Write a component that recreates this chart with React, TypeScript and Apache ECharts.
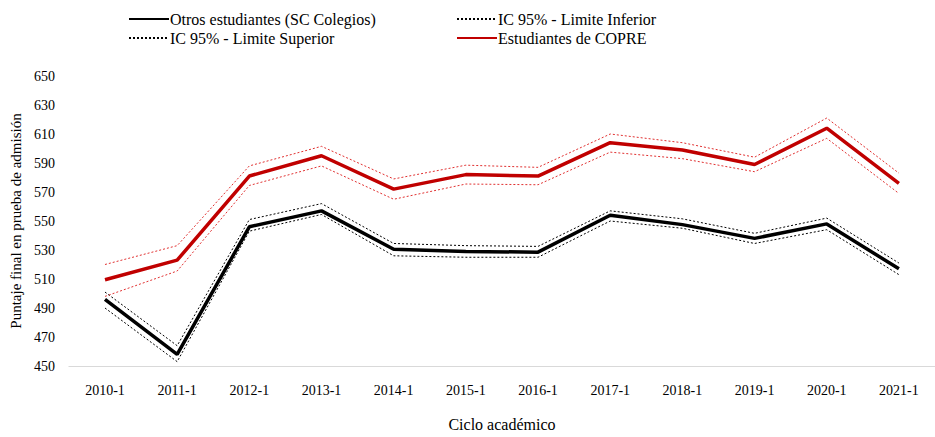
import React, { useEffect, useRef } from "react";
import * as echarts from "echarts";

const categories = ["2010-1", "2011-1", "2012-1", "2013-1", "2014-1", "2015-1", "2016-1", "2017-1", "2018-1", "2019-1", "2020-1", "2021-1"];
const otros = [496, 458, 546, 557, 530.5, 529, 528.5, 554, 547.5, 538, 548, 517];
const otrosSup = [501, 464, 551, 562, 534.5, 533, 532.5, 557, 551.5, 541.5, 552, 521];
const otrosInf = [490, 453, 543, 554.5, 526, 525, 525, 550, 545, 534.5, 544, 513];
const copre = [509.5, 523, 581, 595, 572, 582, 581, 604, 599, 589, 614, 576];
const copreSup = [520, 533, 588, 601.5, 579, 588.5, 587, 610, 604, 594, 621, 583];
const copreInf = [498, 515.5, 574.5, 588, 565, 575.5, 575, 597.5, 593, 584, 607, 569];

const yTicks = { min: 450, max: 650, interval: 20 };

const FONT = "Liberation Serif";

export default function App() {
  const ref = useRef<HTMLDivElement>(null);
  useEffect(() => {
    if (!ref.current) return;
    const chart = echarts.init(ref.current, undefined, { renderer: "svg" });
    const dotted = (color: string) => ({ color, width: 1, type: [2, 2] as any });
    const legendBase = {
      orient: "horizontal",
      itemWidth: 40,
      itemHeight: 10,
      itemGap: 0,
      itemStyle: { opacity: 0 },
      textStyle: { fontFamily: FONT, fontSize: 16, color: "#000", padding: [0, 0, 0, -4] },
      padding: 0,
      selectedMode: false,
    };
    chart.setOption({
      animation: false,
      textStyle: { fontFamily: FONT },
      legend: [
        { ...legendBase, left: 128, top: 11, data: ["Otros estudiantes (SC Colegios)"] },
        { ...legendBase, left: 456, top: 11, data: ["IC 95% - Limite Inferior"] },
        { ...legendBase, left: 128, top: 30, data: ["IC 95% - Limite Superior"] },
        { ...legendBase, left: 456, top: 30, data: ["Estudiantes de COPRE"] },
      ],
      grid: { left: 66, right: -19, top: 76, bottom: 68 },
      xAxis: {
        type: "category",
        data: categories,
        boundaryGap: true,
        axisLine: { lineStyle: { color: "#d9d9d9", width: 1 } },
        axisTick: { show: false },
        axisLabel: { fontFamily: FONT, fontSize: 14, color: "#000", margin: 17 },
        name: "Ciclo académico",
        nameLocation: "middle",
        nameGap: 50,
        nameTextStyle: { fontFamily: FONT, fontSize: 16, color: "#000" },
      },
      yAxis: {
        type: "value",
        min: yTicks.min,
        max: yTicks.max,
        interval: yTicks.interval,
        splitLine: { show: false },
        axisLine: { show: false },
        axisTick: { show: false },
        axisLabel: { fontFamily: FONT, fontSize: 14, color: "#000", margin: 14 },
        name: "Puntaje final en prueba de admisión",
        nameLocation: "middle",
        nameGap: 44,
        nameRotate: 90,
        nameTextStyle: { fontFamily: FONT, fontSize: 15, color: "#000" },
      },
      series: [
        { name: "Otros estudiantes (SC Colegios)", type: "line", data: otros, symbol: "none", lineStyle: { color: "#000", width: 3.5 }, itemStyle: { color: "#000" }, z: 5 },
        { name: "IC 95% - Limite Inferior", type: "line", data: otrosInf, symbol: "none", lineStyle: dotted("#000"), itemStyle: { color: "#000" } },
        { name: "IC 95% - Limite Superior", type: "line", data: otrosSup, symbol: "none", lineStyle: dotted("#000"), itemStyle: { color: "#000" } },
        { name: "Estudiantes de COPRE", type: "line", data: copre, symbol: "none", lineStyle: { color: "#c00000", width: 3.5 }, itemStyle: { color: "#c00000" }, z: 5 },
        { name: "IC 95% COPRE - Limite Inferior", type: "line", data: copreInf, symbol: "none", lineStyle: dotted("#e03030"), itemStyle: { color: "#e03030" } },
        { name: "IC 95% COPRE - Limite Superior", type: "line", data: copreSup, symbol: "none", lineStyle: dotted("#e03030"), itemStyle: { color: "#e03030" } },
      ],
    });
    return () => chart.dispose();
  }, []);
  return <div ref={ref} style={{ width: 935, height: 437, position: "absolute", left: 0, top: 0, background: "#fff" }} />;
}
